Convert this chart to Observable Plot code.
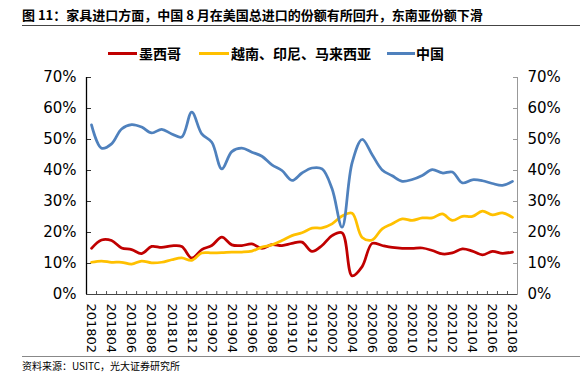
<!DOCTYPE html>
<html><head><meta charset="utf-8">
<script src="https://cdn.jsdelivr.net/npm/d3@7"></script>
<script src="https://cdn.jsdelivr.net/npm/@observablehq/plot@0.6"></script>
<style>
body{margin:0;background:#fff;}
#wrap{position:relative;width:580px;height:391px;overflow:hidden;font-family:"Noto Sans CJK SC",sans-serif;color:#000;}
#title{position:absolute;left:22px;top:6px;font-size:13px;font-weight:bold;white-space:nowrap;line-height:18px;}
#tline{position:absolute;left:22px;right:0;top:25px;border-top:1.5px solid #444;}
.lg{position:absolute;top:44px;font-size:14px;font-weight:bold;line-height:18px;white-space:nowrap;}
.sw{position:absolute;top:52px;height:3px;}
#chart{position:absolute;left:0;top:65px;}
#sline{position:absolute;left:22px;right:0;top:356px;border-top:1px solid #888;}
#source{position:absolute;left:22px;top:359px;font-size:10px;line-height:14px;white-space:nowrap;}
</style></head>
<body><div id="wrap">
<div id="title">图 11：家具进口方面，中国 8 月在美国总进口的份额有所回升，东南亚份额下滑</div>
<div id="tline"></div>
<div class="sw" style="left:108px;width:29px;background:#C00000"></div><div class="lg" style="left:139px">墨西哥</div>
<div class="sw" style="left:199px;width:30px;background:#FFC000"></div><div class="lg" style="left:231px">越南、印尼、马来西亚</div>
<div class="sw" style="left:387px;width:28px;background:#4F81BD"></div><div class="lg" style="left:416px">中国</div>
<div id="chart"></div>
<div id="sline"></div>
<div id="source">资料来源：USITC，光大证券研究所</div>
</div>
<script>
const months = ["201802","201803","201804","201805","201806","201807","201808","201809","201810","201811","201812",
"201901","201902","201903","201904","201905","201906","201907","201908","201909","201910","201911","201912",
"202001","202002","202003","202004","202005","202006","202007","202008","202009","202010","202011","202012",
"202101","202102","202103","202104","202105","202106","202107","202108"];
const mexico = [14.9,17.6,17.4,15.0,14.5,13.2,15.5,15.2,15.7,15.5,11.7,14.5,15.8,18.5,16.0,15.8,16.3,14.9,16.1,15.8,16.5,16.9,13.9,15.8,19.0,19.9,6.0,9.0,16.5,15.8,15.2,14.9,14.9,15.0,14.2,13.1,13.4,14.7,14.0,12.8,13.9,13.3,13.7];
const seAsia = [10.4,10.8,10.4,10.4,9.8,10.8,10.2,10.4,11.2,11.8,11.0,13.4,13.4,13.5,13.7,13.7,14.0,15.3,16.0,17.4,19.0,19.9,21.4,21.5,22.8,25.3,26.2,18.4,17.6,21.2,22.8,24.4,23.9,24.7,24.7,26.0,23.9,25.2,25.2,26.9,25.7,26.3,24.9];
const china = [54.7,47.2,48.6,53.4,54.8,54.0,52.1,53.3,51.8,50.8,58.8,51.8,49.1,40.5,46.1,47.2,45.9,44.6,41.8,40.0,36.8,39.2,40.8,40.5,34.1,21.7,42.5,50.0,45.1,40.2,38.3,36.5,37.1,38.4,40.3,39.2,39.5,36.0,37.0,36.7,35.8,35.2,36.5];
const yTicks = [0,10,20,30,40,50,60,70];
const labelIdx = months.map((m,i)=>i).filter(i=>i%2===0);

const rows = months.map((m,i)=>({i, mexico: mexico[i], sea: seAsia[i], china: china[i]}));
const xDomain = [-0.5, months.length - 0.5];
const boundaries = d3.range(xDomain[0], xDomain[1] + 0.01, 1);

const chart = Plot.plot({
  width: 580, height: 300,
  marginLeft: 86, marginRight: 63, marginTop: 12, marginBottom: 71,
  x: {type: "linear", domain: xDomain},
  y: {domain: [0, 70]},
  style: {fontFamily: "'DejaVu Sans', sans-serif", color: "#000", background: "#fff", overflow: "visible"},
  marks: [
    Plot.axisY({anchor: "left", ticks: yTicks, tickFormat: d => d + "%", tickSize: -5, tickPadding: 15, fontSize: 15, stroke: "#333", fill: "#000", label: null}),
    Plot.axisY({anchor: "right", ticks: yTicks, tickFormat: d => d + "%", tickSize: -5, tickPadding: 15, fontSize: 15, stroke: "#999", fill: "#000", label: null}),
    Plot.axisX({ticks: boundaries, tickSize: -3, tickFormat: () => "", stroke: "#555", label: null}),
    Plot.axisX({ticks: labelIdx, tickSize: 0, tickPadding: 9, tickRotate: 90, tickFormat: i => months[i], fontSize: 13, fill: "#000", label: null}),
    Plot.ruleX([xDomain[0]], {stroke: "#000", strokeWidth: 1.3}),
    Plot.ruleX([xDomain[1]], {stroke: "#999", strokeWidth: 1}),
    Plot.ruleY([0], {stroke: "#444", strokeWidth: 1.2}),
    Plot.line(rows, {x: "i", y: "mexico", stroke: "#C00000", strokeWidth: 2.75, curve: "catmull-rom"}),
    Plot.line(rows, {x: "i", y: "sea", stroke: "#FFC000", strokeWidth: 2.75, curve: "catmull-rom"}),
    Plot.line(rows, {x: "i", y: "china", stroke: "#4F81BD", strokeWidth: 2.75, curve: "catmull-rom"})
  ]
});
document.getElementById("chart").appendChild(chart);
</script>
</body></html>
